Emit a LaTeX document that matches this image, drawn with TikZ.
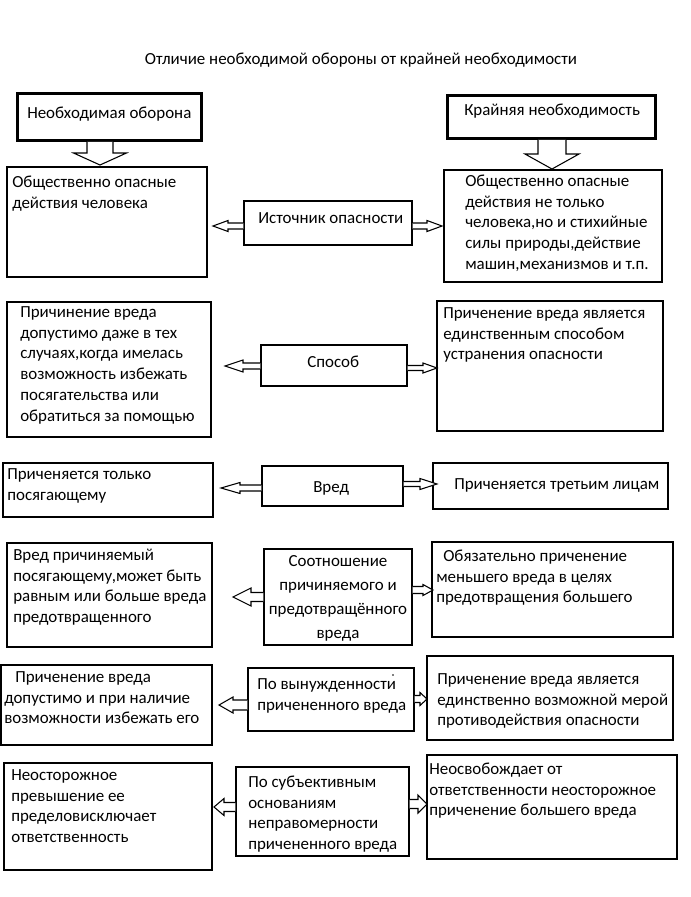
\documentclass[tikz,border=0pt]{standalone}
\usepackage{fontspec}
\setmainfont{Carlito}
\usetikzlibrary{calc,fit}
\newcommand{\ts}{\rule{0pt}{10.5pt}}
% horizontal block arrow: #1 source anchor, #2 tip coordinate, #3 shaft half, #4 head half, #5 head length (px)
\newcommand{\harr}[5]{%
  \draw[barr] let \p1=(#1 |- #2), \p2=(#2), \n1={ifthenelse(\x2>\x1,1,-1)} in
    ({\x1},{\y2+#3*0.75pt}) -- ({\x2-\n1*#5*0.75pt},{\y2+#3*0.75pt}) --
    ({\x2-\n1*#5*0.75pt},{\y2+#4*0.75pt}) -- (\p2) --
    ({\x2-\n1*#5*0.75pt},{\y2-#4*0.75pt}) -- ({\x2-\n1*#5*0.75pt},{\y2-#3*0.75pt}) --
    ({\x1},{\y2-#3*0.75pt});}
% vertical (downward) block arrow
\newcommand{\varr}[5]{%
  \draw[barr] let \p1=(#1 -| #2), \p2=(#2) in
    ({\x2-#3*0.75pt},{\y1}) -- ({\x2-#3*0.75pt},{\y2+#5*0.75pt}) --
    ({\x2-#4*0.75pt},{\y2+#5*0.75pt}) -- (\p2) --
    ({\x2+#4*0.75pt},{\y2+#5*0.75pt}) -- ({\x2+#3*0.75pt},{\y2+#5*0.75pt}) --
    ({\x2+#3*0.75pt},{\y1});}
\newcommand{\bx}[6][box]{\node[#1, fit={(#3,#4) (#5,#6)}] (#2) {};}
\begin{document}
\begin{tikzpicture}[x=0.75pt,y=-0.75pt,
  box/.style={draw=black, line width=0.8pt, inner sep=0pt, fill=none},
  thickbox/.style={draw=black, line width=2.1pt, inner sep=0pt},
  barr/.style={draw=black, line width=0.8pt, line join=miter, fill=white},
  txt/.style={inner sep=0pt, align=left, font=\fontsize{12.7}{15.6}\selectfont},
  ctxt/.style={inner sep=0pt, align=center, font=\fontsize{12.7}{18}\selectfont}]
\fill[white] (0,0) rectangle (691,897);
\useasboundingbox (0,0) rectangle (691,897);

\node[txt, anchor=base] (title) at (361,64) {Отличие необходимой обороны от крайней необходимости};

% header boxes
\bx[thickbox]{nb}{17.5}{93.5}{201.5}{140.5}
\bx[thickbox]{kn}{447.5}{95.5}{655.5}{138.5}
\node[txt, anchor=base west] (tnb) at (27,118) {Необходимая оборона};
\node[txt, anchor=base west] (tkn) at (464,115) {Крайняя необходимость};

% boxes
\bx{L1}{7}{167}{207}{277}
\bx{M1}{244}{201}{412}{245}
\bx{R1}{444}{170}{662}{282}
\bx{L2}{7}{302}{211}{437}
\bx{M2}{261}{345}{407}{386}
\bx{R2}{437}{301}{663}{431}
\bx{L3}{3}{463}{213}{517}
\bx{M3}{262}{466}{403}{506}
\bx{R3}{433}{463}{668}{509}
\bx{L4}{7}{543}{212}{647}
\bx{M4}{264}{549}{412}{645}
\bx{R4}{432}{542}{673}{637}
\bx{L5}{1}{665}{212}{745}
\bx{M5}{248}{668}{414}{731}
\bx{R5}{427}{656}{673}{740}
\bx{L6}{4}{763}{212}{870}
\bx{M6}{236}{767}{409}{856}
\bx{R6}{427}{755}{677}{859}

% texts
\node[txt, anchor=north west] (tL1) at (12,173) {\ts Общественно опасные\\действия человека};
\node[txt, anchor=base west] (tM1) at (258,223) {Источник опасности};
\node[txt, anchor=north west] (tR1) at (465,172) {\ts Общественно опасные\\действия не только\\человека,но и стихийные\\силы природы,действие\\машин,механизмов и т.п.};
\node[txt, anchor=north west] (tL2) at (20,303) {\ts Причинение вреда\\допустимо даже в тех\\случаях,когда имелась\\возможность избежать\\посягательства или\\обратиться за помощью};
\node[txt, anchor=base west] (tM2) at (307,367) {Способ};
\node[txt, anchor=north west] (tR2) at (443,304) {\ts Приченение вреда является\\единственным способом\\устранения опасности};
\node[txt, anchor=north west] (tL3) at (7,465) {\ts Приченяется только\\посягающему};
\node[txt, anchor=base west] (tM3) at (313,492) {Вред};
\node[txt, anchor=base west] (tR3) at (454,489) {Приченяется третьим лицам};
\node[txt, anchor=north west] (tL4) at (13,546) {\ts Вред причиняемый\\посягающему,может быть\\равным или больше вреда\\предотвращенного};
\node[ctxt, anchor=north] (tM4) at (338,552) {\ts Соотношение\\причиняемого и\\предотвращённого\\вреда};
\node[txt, anchor=north west] (tR4) at (436,547) {\ts\hspace*{5.25pt}Обязательно приченение\\меньшего вреда в целях\\предотвращения большего};
\node[txt, anchor=north west] (tL5) at (4,668) {\ts\hspace*{8.25pt}Приченение вреда\\допустимо и при наличие\\возможности избежать его};
\node[txt, anchor=north west] (tM5) at (257,675) {\ts По вынужденности\\причененного вреда};
\fill (393,675) circle[radius=0.9];
\node[txt, anchor=north west] (tR5) at (437,670) {\ts Приченение вреда является\\единственно возможной мерой\\противодействия опасности};
\node[txt, anchor=north west] (tL6) at (11,766) {\ts Неосторожное\\превышение ее\\пределовисключает\\ответственность};
\node[txt, anchor=north west] (tM6) at (248,773) {\ts По субъективным\\основаниям\\неправомерности\\причененного вреда};
\node[txt, anchor=north west] (tR6) at (429,760) {\ts Неосвобождает от\\ответственности неосторожное\\приченение большего вреда};

% arrow tips
\coordinate (v1) at (100,165);
\coordinate (v2) at (552,169);
\coordinate (a1) at (213,226);
\coordinate (a2) at (442,226);
\coordinate (a3) at (225,366);
\coordinate (a4) at (437,368);
\coordinate (a5) at (221,488);
\coordinate (a6) at (437,484);
\coordinate (a7) at (233,597);
\coordinate (a8) at (433,590);
\coordinate (a9) at (219,705);
\coordinate (a10) at (427,699);
\coordinate (a11) at (214,807);
\coordinate (a12) at (427,804);

\varr{nb.south}{v1}{13}{26.5}{12}
\varr{kn.south}{v2}{14}{27}{15}
\harr{M1.west}{a1}{3}{5.5}{15}
\harr{M1.east}{a2}{3}{5.5}{15}
\harr{M2.west}{a3}{3}{6}{18}
\harr{M2.east}{a4}{2.5}{5}{14}
\harr{M3.west}{a5}{3}{5.5}{19}
\harr{M3.east}{a6}{2.5}{5.5}{17}
\harr{M4.west}{a7}{4.5}{9}{18}
\harr{M4.east}{a8}{3.5}{5.5}{10}
\harr{M5.west}{a9}{5}{8}{14}
\harr{M5.east}{a10}{3.5}{6.5}{7}
\harr{M6.west}{a11}{4.5}{8.5}{10}
\harr{M6.east}{a12}{4.5}{9}{9}
\end{tikzpicture}
\end{document}
